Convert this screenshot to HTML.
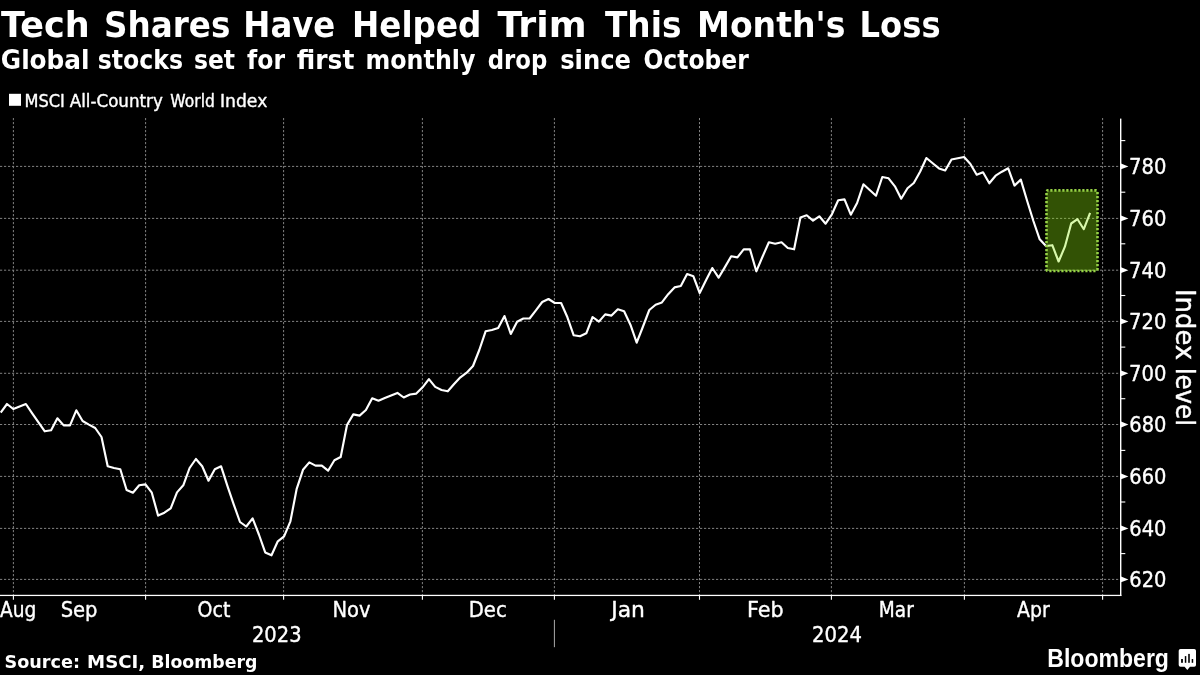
<!DOCTYPE html>
<html lang="en"><head><meta charset="utf-8"><title>Tech Shares Have Helped Trim This Month's Loss</title>
<style>
html,body{margin:0;padding:0;background:#000;}
body{width:1200px;height:675px;overflow:hidden;}
svg{display:block;}
text{font-family:"DejaVu Sans",sans-serif;fill:#fff;stroke:#fff;stroke-width:.4px;stroke-linejoin:round;}
.b,.lg{stroke-width:0;}
.b{font-weight:bold;}
.lg{font-family:"Liberation Sans",sans-serif;font-weight:bold;}
.ax{font-size:21px;}
.grid line{stroke:#808080;stroke-width:1;stroke-dasharray:2.2 1.8;}
</style></head><body>
<svg width="1200" height="675" viewBox="0 0 1200 675">
<rect width="1200" height="675" fill="#000"/>
<text class="b" transform="translate(0.90 37) scale(0.9868 1)" font-size="35.5">Tech</text>
<text class="b" transform="translate(104.00 37) scale(0.9193 1)" font-size="35.5">Shares</text>
<text class="b" transform="translate(243.34 37) scale(0.9115 1)" font-size="35.5">Have</text>
<text class="b" transform="translate(352.01 37) scale(0.9187 1)" font-size="35.5">Helped</text>
<text class="b" transform="translate(497.50 37) scale(1.0243 1)" font-size="35.5">Trim</text>
<text class="b" transform="translate(605.00 37) scale(0.9231 1)" font-size="35.5">This</text>
<text class="b" transform="translate(696.97 37) scale(0.9323 1)" font-size="35.5">Month's</text>
<text class="b" transform="translate(859.55 37) scale(0.9080 1)" font-size="35.5">Loss</text>
<text class="b" transform="translate(0.83 68.8) scale(0.9344 1)" font-size="26.5">Global</text>
<text class="b" transform="translate(97.68 68.8) scale(0.8922 1)" font-size="26.5">stocks</text>
<text class="b" transform="translate(193.89 68.8) scale(0.8876 1)" font-size="26.5">set</text>
<text class="b" transform="translate(247.06 68.8) scale(0.8876 1)" font-size="26.5">for</text>
<text class="b" transform="translate(296.83 68.8) scale(0.9417 1)" font-size="26.5">first</text>
<text class="b" transform="translate(365.48 68.8) scale(0.8977 1)" font-size="26.5">monthly</text>
<text class="b" transform="translate(487.72 68.8) scale(0.8614 1)" font-size="26.5">drop</text>
<text class="b" transform="translate(560.15 68.8) scale(0.9160 1)" font-size="26.5">since</text>
<text class="b" transform="translate(643.39 68.8) scale(0.8858 1)" font-size="26.5">October</text>
<rect x="9" y="93.8" width="12" height="12" fill="#fff"/>
<text transform="translate(24.56 106.7) scale(0.9358 1)" font-size="17.3">MSCI</text>
<text transform="translate(69.76 106.7) scale(0.9654 1)" font-size="17.3">All-Country</text>
<text transform="translate(170.35 106.7) scale(0.8989 1)" font-size="17.3">World</text>
<text transform="translate(219.96 106.7) scale(0.9945 1)" font-size="17.3">Index</text>
<g class="grid">
<line x1="0" x2="1121" y1="166.4" y2="166.4"/>
<line x1="0" x2="1121" y1="218.4" y2="218.4"/>
<line x1="0" x2="1121" y1="270.2" y2="270.2"/>
<line x1="0" x2="1121" y1="321.4" y2="321.4"/>
<line x1="0" x2="1121" y1="373.3" y2="373.3"/>
<line x1="0" x2="1121" y1="424.5" y2="424.5"/>
<line x1="0" x2="1121" y1="476.4" y2="476.4"/>
<line x1="0" x2="1121" y1="528.4" y2="528.4"/>
<line x1="0" x2="1121" y1="579.4" y2="579.4"/>
<line x1="13.4" x2="13.4" y1="118" y2="595"/>
<line x1="145.6" x2="145.6" y1="118" y2="595"/>
<line x1="283.6" x2="283.6" y1="118" y2="595"/>
<line x1="422.4" x2="422.4" y1="118" y2="595"/>
<line x1="554.4" x2="554.4" y1="118" y2="595"/>
<line x1="699.5" x2="699.5" y1="118" y2="595"/>
<line x1="831.4" x2="831.4" y1="118" y2="595"/>
<line x1="964.4" x2="964.4" y1="118" y2="595"/>
<line x1="1102.6" x2="1102.6" y1="118" y2="595"/>
</g>
<rect x="0" y="594.8" width="1121.4" height="1.25" fill="#fff"/>
<rect x="1120" y="118.6" width="1.4" height="477.4" fill="#fff"/>
<line x1="13.4" x2="13.4" y1="595" y2="599.8" stroke="#fff" stroke-width="1.1"/>
<line x1="145.6" x2="145.6" y1="595" y2="599.8" stroke="#fff" stroke-width="1.1"/>
<line x1="283.6" x2="283.6" y1="595" y2="599.8" stroke="#fff" stroke-width="1.1"/>
<line x1="422.4" x2="422.4" y1="595" y2="599.8" stroke="#fff" stroke-width="1.1"/>
<line x1="554.4" x2="554.4" y1="595" y2="599.8" stroke="#fff" stroke-width="1.1"/>
<line x1="699.5" x2="699.5" y1="595" y2="599.8" stroke="#fff" stroke-width="1.1"/>
<line x1="831.4" x2="831.4" y1="595" y2="599.8" stroke="#fff" stroke-width="1.1"/>
<line x1="964.4" x2="964.4" y1="595" y2="599.8" stroke="#fff" stroke-width="1.1"/>
<line x1="1102.6" x2="1102.6" y1="595" y2="599.8" stroke="#fff" stroke-width="1.1"/>
<path d="M1121 163.5 L1128.4 166.4 L1121 169.3 Z" fill="#fff"/>
<text transform="translate(1129.04 174.1) scale(0.8903 1)" font-size="22">780</text>
<path d="M1121 215.5 L1128.4 218.4 L1121 221.3 Z" fill="#fff"/>
<text transform="translate(1129.04 226.1) scale(0.8903 1)" font-size="22">760</text>
<path d="M1121 267.3 L1128.4 270.2 L1121 273.1 Z" fill="#fff"/>
<text transform="translate(1129.04 277.9) scale(0.8903 1)" font-size="22">740</text>
<path d="M1121 318.5 L1128.4 321.4 L1121 324.3 Z" fill="#fff"/>
<text transform="translate(1129.04 329.1) scale(0.8903 1)" font-size="22">720</text>
<path d="M1121 370.4 L1128.4 373.3 L1121 376.2 Z" fill="#fff"/>
<text transform="translate(1129.04 381.0) scale(0.8903 1)" font-size="22">700</text>
<path d="M1121 421.6 L1128.4 424.5 L1121 427.4 Z" fill="#fff"/>
<text transform="translate(1129.27 432.2) scale(0.8846 1)" font-size="22">680</text>
<path d="M1121 473.5 L1128.4 476.4 L1121 479.3 Z" fill="#fff"/>
<text transform="translate(1129.27 484.1) scale(0.8846 1)" font-size="22">660</text>
<path d="M1121 525.5 L1128.4 528.4 L1121 531.3 Z" fill="#fff"/>
<text transform="translate(1129.27 536.1) scale(0.8846 1)" font-size="22">640</text>
<path d="M1121 576.5 L1128.4 579.4 L1121 582.3 Z" fill="#fff"/>
<text transform="translate(1129.27 587.1) scale(0.8846 1)" font-size="22">620</text>
<line x1="1121" x2="1125.3" y1="140.6" y2="140.6" stroke="#fff" stroke-width="1.1"/>
<line x1="1121" x2="1125.3" y1="192.2" y2="192.2" stroke="#fff" stroke-width="1.1"/>
<line x1="1121" x2="1125.3" y1="243.8" y2="243.8" stroke="#fff" stroke-width="1.1"/>
<line x1="1121" x2="1125.3" y1="295.5" y2="295.5" stroke="#fff" stroke-width="1.1"/>
<line x1="1121" x2="1125.3" y1="347.1" y2="347.1" stroke="#fff" stroke-width="1.1"/>
<line x1="1121" x2="1125.3" y1="398.7" y2="398.7" stroke="#fff" stroke-width="1.1"/>
<line x1="1121" x2="1125.3" y1="450.4" y2="450.4" stroke="#fff" stroke-width="1.1"/>
<line x1="1121" x2="1125.3" y1="502.0" y2="502.0" stroke="#fff" stroke-width="1.1"/>
<line x1="1121" x2="1125.3" y1="553.6" y2="553.6" stroke="#fff" stroke-width="1.1"/>
<polyline points="0.7,412.5 7.0,404.0 13.3,409.0 19.6,406.4 25.9,404.0 32.2,413.3 38.5,422.3 44.8,431.3 51.1,430.3 57.4,418.3 63.7,425.4 70.0,425.4 76.3,410.3 82.6,421.0 88.9,424.6 95.2,428.0 101.5,437.0 107.7,466.3 114.0,468.0 120.3,469.2 126.6,490.0 132.9,492.7 139.2,485.3 145.5,484.4 151.8,492.7 158.1,515.6 164.4,512.7 170.7,508.3 177.0,492.4 183.3,485.3 189.6,468.0 195.9,459.0 202.2,466.3 208.5,480.7 214.8,469.3 221.1,466.3 227.4,485.9 233.7,504.3 240.0,522.0 246.3,526.5 252.6,518.3 258.9,534.5 265.2,552.4 271.5,555.3 277.8,541.3 284.1,536.3 290.4,521.3 296.7,488.8 303.0,469.8 309.3,462.4 315.5,465.6 321.8,465.6 328.1,470.7 334.4,460.3 340.7,457.0 347.0,425.0 353.3,414.4 359.6,415.6 365.9,410.0 372.2,398.3 378.5,400.7 384.8,398.1 391.1,395.5 397.4,392.9 403.7,397.5 410.0,394.5 416.3,393.6 422.6,387.3 428.9,379.1 435.2,386.9 441.5,390.0 447.8,391.3 454.1,384.0 460.4,377.3 466.7,372.7 473.0,366.0 479.3,350.0 485.6,331.3 491.9,330.0 498.2,328.0 504.5,316.0 510.8,334.0 517.1,321.7 523.4,318.5 529.6,318.5 535.9,310.4 542.2,302.0 548.5,299.0 554.8,303.0 561.1,303.0 567.4,317.3 573.7,335.3 580.0,336.3 586.3,333.3 592.6,317.0 598.9,321.6 605.2,314.4 611.5,315.6 617.8,309.3 624.1,311.3 630.4,324.7 636.7,342.7 643.0,326.5 649.3,310.0 655.6,304.7 661.9,302.4 668.2,294.2 674.5,287.4 680.8,286.0 687.1,274.0 693.4,276.3 699.7,293.0 706.0,280.3 712.3,268.0 718.6,277.7 724.9,267.1 731.2,256.3 737.4,257.4 743.7,249.4 750.0,249.4 756.3,271.3 762.6,256.5 768.9,242.3 775.2,243.7 781.5,242.3 787.8,248.0 794.1,249.3 800.4,217.5 806.7,215.3 813.0,220.6 819.3,216.3 825.6,223.7 831.9,214.3 838.2,200.3 844.5,199.4 850.8,214.7 857.1,203.0 863.4,184.3 869.7,190.0 876.0,195.7 882.3,177.0 888.6,178.3 894.9,186.3 901.2,198.7 907.5,188.3 913.8,183.0 920.1,171.7 926.4,158.0 932.7,163.3 939.0,168.4 945.2,170.5 951.5,159.5 957.8,158.3 964.1,157.0 970.4,164.0 976.7,174.7 983.0,172.3 989.3,183.3 995.6,175.7 1001.9,171.7 1008.2,168.3 1014.5,185.6 1020.8,179.6 1027.1,200.7 1033.4,221.0 1039.7,239.3 1046.0,246.0 1052.3,245.2 1058.6,261.5 1064.9,246.7 1071.2,223.5 1077.5,219.2 1083.8,229.2 1090.1,212.8" fill="none" stroke="#fff" stroke-width="2.15" stroke-linejoin="round" stroke-linecap="butt"/>
<rect x="1046.5" y="190.4" width="51" height="80.6" rx="1.5" fill="#8fea0e" fill-opacity="0.35" stroke="#96d246" stroke-width="2.6" stroke-dasharray="2.2 1.8" stroke-dashoffset="1.7"/>
<text transform="translate(-0.01 617) scale(0.8466 1)" font-size="22">Aug</text>
<text transform="translate(60.66 617) scale(0.8903 1)" font-size="22">Sep</text>
<text transform="translate(197.62 617) scale(0.8634 1)" font-size="22">Oct</text>
<text transform="translate(332.53 617) scale(0.8870 1)" font-size="22">Nov</text>
<text transform="translate(468.72 617) scale(0.8917 1)" font-size="22">Dec</text>
<text transform="translate(611.24 617) scale(0.9940 1)" font-size="22">Jan</text>
<text transform="translate(746.91 617) scale(0.9427 1)" font-size="22">Feb</text>
<text transform="translate(878.81 617) scale(0.8430 1)" font-size="22">Mar</text>
<text transform="translate(1016.98 617) scale(0.8609 1)" font-size="22">Apr</text>
<text transform="translate(251.97 641.9) scale(0.8853 1)" font-size="22">2023</text>
<text transform="translate(811.96 641.9) scale(0.8920 1)" font-size="22">2024</text>
<line x1="554.4" x2="554.4" y1="619.8" y2="647.2" stroke="#aaa" stroke-width="1"/>
<text transform="translate(1176.4 288.91) rotate(90) scale(0.9963 1)" font-size="26">Index</text>
<text transform="translate(1176.4 367.64) rotate(90) scale(0.9439 1)" font-size="26">level</text>
<text class="b" transform="translate(4.50 667.6) scale(1.0380 1)" font-size="17">Source:</text>
<text class="b" transform="translate(87.10 667.6) scale(1.0693 1)" font-size="17">MSCI,</text>
<text class="b" transform="translate(151.27 667.6) scale(1.0193 1)" font-size="17">Bloomberg</text>
<text class="lg" transform="translate(1047.30 667.1) scale(0.9151 1)" font-size="25.2">Bloomberg</text>
<path d="M1180.5 649 h13.7 a1.8 1.8 0 0 1 1.8 1.8 v14.2 a1.8 1.8 0 0 1 -1.8 1.8 h-4.2 l-2.7 3.1 l-2.7 -3.1 h-4.1 a1.8 1.8 0 0 1 -1.8 -1.8 v-14.2 a1.8 1.8 0 0 1 1.8 -1.8 z" fill="#fff"/>
<g fill="#000"><rect x="1181.1" y="659" width="1.8" height="3.8"/><rect x="1184.8" y="656.1" width="1.5" height="6.7"/><rect x="1188.2" y="653.9" width="1.6" height="8.9"/><rect x="1191.7" y="659" width="1.5" height="3.8"/></g>
</svg></body></html>
